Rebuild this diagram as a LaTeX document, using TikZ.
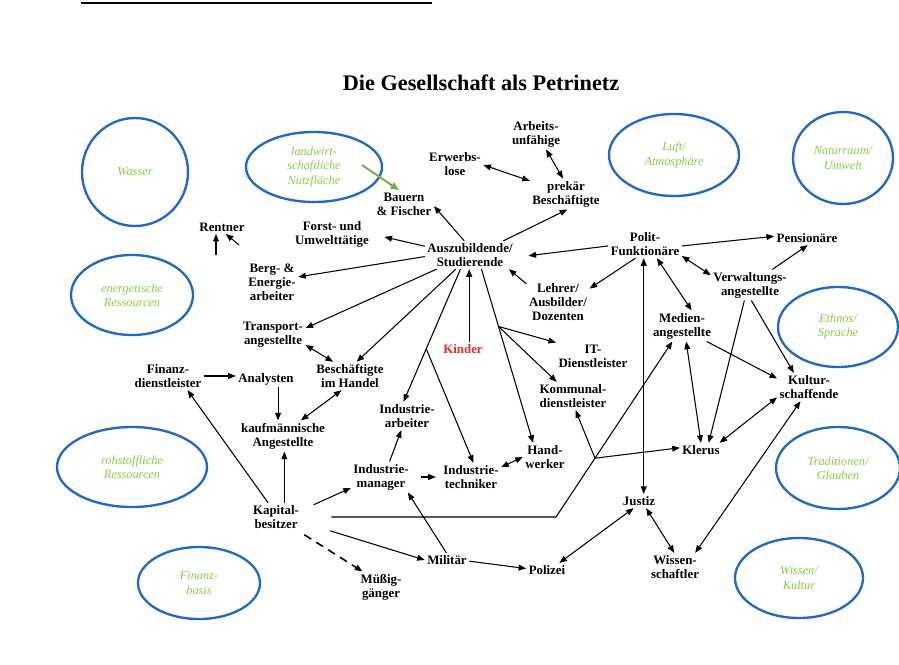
\documentclass[tikz,border=0pt]{standalone}
\usepackage{fontspec}
\setmainfont{Liberation Serif}
\usetikzlibrary{shapes.geometric,arrows.meta,calc}
\definecolor{resblue}{RGB}{35,105,195}
\definecolor{resgreen}{RGB}{135,205,70}
\definecolor{kinderred}{RGB}{225,45,40}

\begin{document}
\begin{tikzpicture}[x=0.3mm,y=-0.3mm,
	grp/.style={font=\bfseries\fontsize{11}{12}\selectfont,align=center,inner sep=2pt},
	res/.style={ellipse,draw=resblue,line width=2pt,text=resgreen,font=\itshape\fontsize{10.5}{12}\selectfont,align=center,inner sep=0pt},
	pfeil/.style={line width=0.9pt,-{Triangle[length=6.5pt,width=5pt]}},
	beid/.style={line width=0.9pt,{Triangle[length=6.5pt,width=5pt]}-{Triangle[length=6.5pt,width=5pt]}}]
		\useasboundingbox (0,0) rectangle (899,664);
		\draw[line width=1.6pt] (81,3) -- (432,3);
		\node[font=\bfseries\fontsize{19}{22}\selectfont] (titel) at (481,83) {Die Gesellschaft als Petrinetz};
		
		\node[res,minimum width=31.8mm,minimum height=32.4mm] (wasser) at (135,172) {Wasser};
		\node[res,minimum width=40.8mm,minimum height=21mm] (nutz) at (314,167) {landwirt-\\schaftliche\\Nutzfläche};
		\node[res,minimum width=36.6mm,minimum height=24mm] (energ) at (132,295) {energetische\\Ressourcen};
		\node[res,minimum width=45mm,minimum height=24mm] (rohst) at (132,467) {rohstoffliche\\Ressourcen};
		\node[res,minimum width=36.6mm,minimum height=21.6mm] (finbas) at (199,583) {Finanz-\\basis};
		\node[res,minimum width=39mm,minimum height=24.6mm] (luft) at (674,155) {Luft/\\Atmosphäre};
		\node[res,minimum width=30mm,minimum height=27.6mm] (natur) at (843,158) {Naturraum/\\Umwelt};
		\node[res,minimum width=36mm,minimum height=24mm] (ethnos) at (838,327) {Ethnos/\\Sprache};
		\node[res,minimum width=37.2mm,minimum height=24.6mm] (trad) at (838,468) {Traditionen/\\Glauben};
		\node[res,minimum width=38.4mm,minimum height=24mm] (wissk) at (799,578) {Wissen/\\Kultur};
		
		\node[grp] (rentner) at (222,227) {Rentner};
		\node[grp] (forst) at (332,234) {Forst- und\\Umwelttätige};
		\node[grp] (bauern) at (404,204) {Bauern\\\& Fischer};
		\node[grp] (erwerbs) at (455,164) {Erwerbs-\\lose};
		\node[grp] (arbeits) at (536,134) {Arbeits-\\unfähige};
		\node[grp] (prekaer) at (566,194) {prekär\\Beschäftigte};
		\node[grp] (azubi) at (470,255) {Auszubildende/\\Studierende};
		\node[grp] (polit) at (645,244) {Polit-\\Funktionäre};
		\node[grp] (pension) at (807,238) {Pensionäre};
		\node[grp] (verwalt) at (750,285) {Verwaltungs-\\angestellte};
		\node[grp] (lehrer) at (558,302) {Lehrer/\\Ausbilder/\\Dozenten};
		\node[grp] (berg) at (272,282) {Berg- \&\\Energie-\\arbeiter};
		\node[grp] (transport) at (273,335) {Transport-\\angestellte};
		\node[grp] (handel) at (350,376) {Beschäftigte\\im Handel};
		\node[grp,text=kinderred] (kinder) at (463,349) {Kinder};
		\node[grp] (it) at (593,356) {IT-\\Dienstleister};
		\node[grp] (kommunal) at (573,396) {Kommunal-\\dienstleister};
		\node[grp] (medien) at (682,326) {Medien-\\angestellte};
		\node[grp] (kultur) at (809,387) {Kultur-\\schaffende};
		\node[grp] (klerus) at (701,450) {Klerus};
		\node[grp] (finanz) at (168,376) {Finanz-\\dienstleister};
		\node[grp] (analysten) at (266,379) {Analysten};
		\node[grp] (kaufm) at (283,436) {kaufmännische\\Angestellte};
		\node[grp] (iarbeiter) at (407,416) {Industrie-\\arbeiter};
		\node[grp] (handwerker) at (545,457) {Hand-\\werker};
		\node[grp] (imanager) at (381,477) {Industrie-\\manager};
		\node[grp] (itechniker) at (471,477) {Industrie-\\techniker};
		\node[grp] (kapital) at (276,517) {Kapital-\\besitzer};
		\node[grp] (muessig) at (381,587) {Müßig-\\gänger};
		\node[grp] (militaer) at (447,560) {Militär};
		\node[grp] (polizei) at (547,570) {Polizei};
		\node[grp] (justiz) at (639,501) {Justiz};
		\node[grp] (wissen) at (675,567) {Wissen-\\schaftler};
		
		\coordinate (gruenfrei) at (362,165);
		\draw[line width=1.6pt,draw=resgreen!85!black,-{Triangle[length=7pt,width=6pt]}] (gruenfrei) -- (bauern.110);
		
		\draw[pfeil] (azubi.112) -- (bauern.-4);
		\draw[pfeil,shorten >=4mm] (azubi.169) -- (forst.east);
		\draw[pfeil] (azubi.182) -- (berg.11);
		\draw[pfeil] (azubi.203) -- (transport.12);
		\draw[pfeil] (azubi.225) -- (handel.65);
		\draw[pfeil] (azubi.236) -- (iarbeiter.104);
		\coordinate (abzw1) at ($(azubi.236)!0.6!(iarbeiter.104)$);
		\draw[pfeil] (abzw1) -- (itechniker.80);
		\draw[pfeil] (azubi.-93 |- kinder.north) -- (azubi.-93);
		\draw[pfeil] (azubi.-51) -- (handwerker.130);
		\coordinate (abzw2) at ($(azubi.-51)!0.33!(handwerker.130)$);
		\draw[pfeil] (abzw2) -- (it.160);
		\draw[pfeil] (abzw2) -- (kommunal.139);
		\draw[pfeil] (lehrer.150) -- (azubi.-20);
		\draw[pfeil] (azubi.23) -- (prekaer.-85);
		\draw[beid] (erwerbs.-2) -- (prekaer.160);
		\draw[beid] (arbeits.-57) -- (prekaer.101);
		
		\draw[pfeil,shorten >=4mm] (polit.183) -- (azubi.-3);
		\draw[pfeil] (polit.236) -- (lehrer.23);
		\draw[pfeil] (polit.-3) -- (pension.177);
		\draw[pfeil] (verwalt.35) -- (pension.-84);
		\draw[beid] (polit.-18) -- (verwalt.166);
		\draw[beid] (polit.-50) -- (medien.58);
		\draw[beid] (polit.-95) -- (polit.-95 |- justiz.north);
		\draw[pfeil] (verwalt.250) -- (klerus.43);
		\draw[pfeil] (verwalt.-85) -- (kultur.137);
		\draw[pfeil] (medien.-32) -- (kultur.165);
		\draw[beid] (medien.-75) -- (klerus.north);
		\draw[beid] (kultur.198) -- (klerus.21);
		\draw[beid] (wissen.35) -- (kultur.239);
		\draw[beid] (justiz.-45) -- (wissen.93);
		\draw[beid] (polizei.30) -- (justiz.233);
		
		\draw[pfeil] (militaer.-3) -- (polizei.176);
		\draw[pfeil] (militaer.95) -- (imanager.-30);
		\draw[pfeil,shorten <=9mm] (kapital.-11) -- (militaer.west);
		\draw[pfeil,line width=1.3pt,dash pattern=on 7pt off 5pt,shorten <=2mm] (kapital.-32) -- (muessig.140);
		\draw[pfeil,shorten <=4mm] (kapital.15) -- (imanager.200);
		\coordinate (knick) at (556,517);
		\draw[pfeil,shorten <=9mm] (kapital.east) -- (knick) -- (medien.238);
		\coordinate (gabel) at ($(knick)!0.335!(medien.238)$);
		\draw[pfeil] (gabel) -- (kommunal.-80);
		\draw[pfeil] (gabel) -- (klerus.174);
		\draw[pfeil] (kapital.119) -- (finanz.-36);
		\draw[pfeil] (kaufm.-85 |- kapital.north) -- (kaufm.-85);
		\draw[pfeil] (finanz.east) -- (finanz.east -| analysten.west);
		\draw[pfeil] (analysten.-35) -- (analysten.-35 |- kaufm.north);
		\draw[beid] (kaufm.41) -- (handel.239);
		\draw[beid] (transport.-17) -- (handel.140);
		\draw[pfeil] (imanager.61) -- (iarbeiter.248);
		\draw[pfeil,shorten <=3mm,shorten >=1.5mm] (imanager.east) -- (itechniker.west);
		\draw[beid] (itechniker.18) -- (handwerker.west);
		
		\coordinate (rfrei1) at (216,255);
		\draw[pfeil] (rfrei1) -- (rfrei1 |- rentner.south);
		\coordinate (rfrei2) at (239,245);
		\draw[pfeil] (rfrei2) -- (rentner.-61);
\end{tikzpicture}
\end{document}
